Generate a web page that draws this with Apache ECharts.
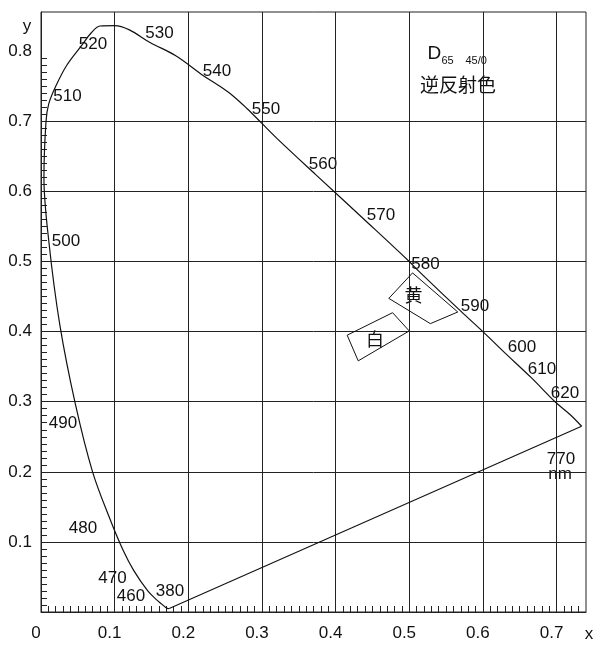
<!DOCTYPE html>
<html>
<head>
<meta charset="utf-8">
<script src="https://cdn.jsdelivr.net/npm/echarts@6/dist/echarts.min.js"></script>
<style>
  html, body { margin: 0; padding: 0; background: #fff; }
  #chart { width: 595px; height: 645px; }
</style>
</head>
<body>
<div id="chart"></div>
<script>
// Spectral locus of the CIE 1931 chromaticity diagram, from 380 nm round to 770 nm
const locusX = [0.1741, 0.1726, 0.1689, 0.1644, 0.1566, 0.1450, 0.1260, 0.1115, 0.0935, 0.0700,
                0.0470, 0.0255, 0.0105, 0.0040, 0.0068, 0.0105, 0.0200, 0.0350, 0.0550, 0.0680,
                0.0800, 0.1000, 0.1200, 0.1480, 0.1830, 0.2200, 0.2400, 0.2600, 0.2800, 0.3000,
                0.3210, 0.3730, 0.4440, 0.5000, 0.5125, 0.5750, 0.6000, 0.6270, 0.6660, 0.6980,
                0.7190, 0.7340];
const locusY = [0.0050, 0.0048, 0.0069, 0.0109, 0.0177, 0.0300, 0.0590, 0.0880, 0.1330, 0.2000,
                0.2950, 0.4100, 0.5300, 0.6200, 0.7000, 0.7250, 0.7500, 0.7800, 0.8080, 0.8260,
                0.8360, 0.8366, 0.8305, 0.8125, 0.7936, 0.7655, 0.7520, 0.7370, 0.7180, 0.6970,
                0.6750, 0.6240, 0.5550, 0.5000, 0.4866, 0.4242, 0.4000, 0.3725, 0.3340, 0.3000,
                0.2810, 0.2650];

// Retroreflective colour regions (D65, 45/0 geometry)
const yellowX = [0.5045, 0.4723, 0.5287, 0.5659];
const yellowY = [0.4838, 0.4474, 0.4114, 0.4280];
const whiteX  = [0.4157, 0.4774, 0.5000, 0.4307];
const whiteY  = [0.3949, 0.4270, 0.4010, 0.3583];

// Wavelength marks along the locus (nm)
const wavelengths = ['380', '460', '470', '480', '490', '500', '510', '520', '530', '540',
                     '550', '560', '570', '580', '590', '600', '610', '620', '770', 'nm'];

// Axis ticks
const xTicks = [0, 0.1, 0.2, 0.3, 0.4, 0.5, 0.6, 0.7];
const yTicks = [0.1, 0.2, 0.3, 0.4, 0.5, 0.6, 0.7, 0.8];

// ---- layout ----
const FONT = '"Liberation Sans", Arial, sans-serif';
const CJK = '"Noto Sans CJK JP", "Noto Sans CJK SC", sans-serif';
const INK = '#111';
const X_MAX = 0.74, Y_MAX = 0.856;

// where each wavelength caption sits (px, centre of the text)
const wavelengthLabelAt = [
  [170, 591], [131, 596.5], [112.5, 578], [83, 528], [63, 423.5], [66, 241.5],
  [67.5, 96], [93, 44.5], [159.5, 33], [217, 71.5], [266, 109.5], [323, 164],
  [381, 215], [425.5, 264], [475, 306.5], [522, 347], [542, 369], [565, 393],
  [561, 459], [560, 474]
];

function pairs(xs, ys) { return xs.map((x, i) => [x, ys[i]]); }
function closed(xs, ys) { const p = pairs(xs, ys); p.push(p[0]); return p; }
function minorSteps(max) {
  const out = [];
  for (let i = 1; i / 100 < max; i++) if (i % 10 !== 0) out.push(i / 100);
  return out;
}

const locus = pairs(locusX, locusY);
const purpleLine = [locus[0], locus[locus.length - 1]];

const chart = echarts.init(document.getElementById('chart'), null, { renderer: 'canvas' });

const graphics = wavelengths.map((w, i) => ({
  type: 'text', x: wavelengthLabelAt[i][0], y: wavelengthLabelAt[i][1], silent: true,
  style: { text: w, fontSize: 17, fontFamily: FONT, fill: INK, align: 'center', verticalAlign: 'middle' }
}));
graphics.push(
  { type: 'text', x: 427.5, y: 54, style: { text: 'D', fontSize: 19, fontFamily: FONT, fill: INK, align: 'left', verticalAlign: 'middle' } },
  { type: 'text', x: 441.5, y: 61, style: { text: '65', fontSize: 11, fontFamily: FONT, fill: INK, align: 'left', verticalAlign: 'middle' } },
  { type: 'text', x: 465.5, y: 61, style: { text: '45/0', fontSize: 11, fontFamily: FONT, fill: INK, align: 'left', verticalAlign: 'middle' } },
  { type: 'text', x: 458, y: 84.5, style: { text: '逆反射色', fontSize: 19, fontFamily: CJK, fill: INK, align: 'center', verticalAlign: 'middle' } },
  { type: 'text', x: 413.5, y: 295, style: { text: '黄', fontSize: 18, fontFamily: CJK, fill: INK, align: 'center', verticalAlign: 'middle' } },
  { type: 'text', x: 375, y: 339.5, style: { text: '白', fontSize: 18, fontFamily: CJK, fill: INK, align: 'center', verticalAlign: 'middle' } },
  { type: 'text', x: 589, y: 634, style: { text: 'x', fontSize: 17, fontFamily: FONT, fill: INK, align: 'center', verticalAlign: 'middle' } },
  { type: 'text', x: 27, y: 26, style: { text: 'y', fontSize: 17, fontFamily: FONT, fill: INK, align: 'center', verticalAlign: 'middle' } }
);

const axisLabelStyle = { fontSize: 17, fontFamily: FONT, color: INK };
const lineBase = { type: 'line', showSymbol: false, symbol: 'none', silent: true, xAxisIndex: 0, yAxisIndex: 0 };

chart.setOption({
  animation: false,
  backgroundColor: '#fff',
  grid: { left: 41, right: 9, top: 12, bottom: 33, show: true, borderColor: '#222', borderWidth: 1, backgroundColor: 'transparent' },
  xAxis: [
    {
      type: 'value', min: 0, max: X_MAX, position: 'bottom',
      axisLine: { show: true, onZero: false, lineStyle: { color: '#222', width: 1 } },
      axisTick: { show: false, customValues: xTicks },
      splitLine: { show: true, lineStyle: { color: '#222', width: 1 } },
      axisLabel: Object.assign({ customValues: xTicks, margin: 13, padding: [0, 10, 0, 0],
        formatter: v => (v === 0 ? '0' : v.toFixed(1)) }, axisLabelStyle)
    },
    {
      type: 'value', min: 0, max: X_MAX, position: 'bottom',
      axisLine: { show: false, onZero: false },
      axisTick: { show: true, inside: true, length: 6, customValues: minorSteps(X_MAX), lineStyle: { color: '#222', width: 1 } },
      splitLine: { show: false },
      axisLabel: { show: false }
    }
  ],
  yAxis: [
    {
      type: 'value', min: 0, max: Y_MAX, position: 'left',
      axisLine: { show: true, onZero: false, lineStyle: { color: '#222', width: 1 } },
      axisTick: { show: false, customValues: [0, 0.1, 0.2, 0.3, 0.4, 0.5, 0.6, 0.7] },
      splitLine: { show: true, lineStyle: { color: '#222', width: 1 } },
      axisLabel: Object.assign({ customValues: yTicks, margin: 9, formatter: v => v.toFixed(1) }, axisLabelStyle)
    },
    {
      type: 'value', min: 0, max: Y_MAX, position: 'left',
      axisLine: { show: false, onZero: false },
      axisTick: { show: true, inside: true, length: 6, customValues: minorSteps(0.8), lineStyle: { color: '#222', width: 1 } },
      splitLine: { show: false },
      axisLabel: { show: false }
    }
  ],
  series: [
    Object.assign({ name: 'locus', data: locus, smooth: 0.35, lineStyle: { color: INK, width: 1.2 } }, lineBase),
    Object.assign({ name: 'purple', data: purpleLine, lineStyle: { color: INK, width: 1.1 } }, lineBase),
    Object.assign({ name: '黄', data: closed(yellowX, yellowY), lineStyle: { color: INK, width: 1 } }, lineBase),
    Object.assign({ name: '白', data: closed(whiteX, whiteY), lineStyle: { color: INK, width: 1 } }, lineBase)
  ],
  graphic: graphics
});
</script>
</body>
</html>
